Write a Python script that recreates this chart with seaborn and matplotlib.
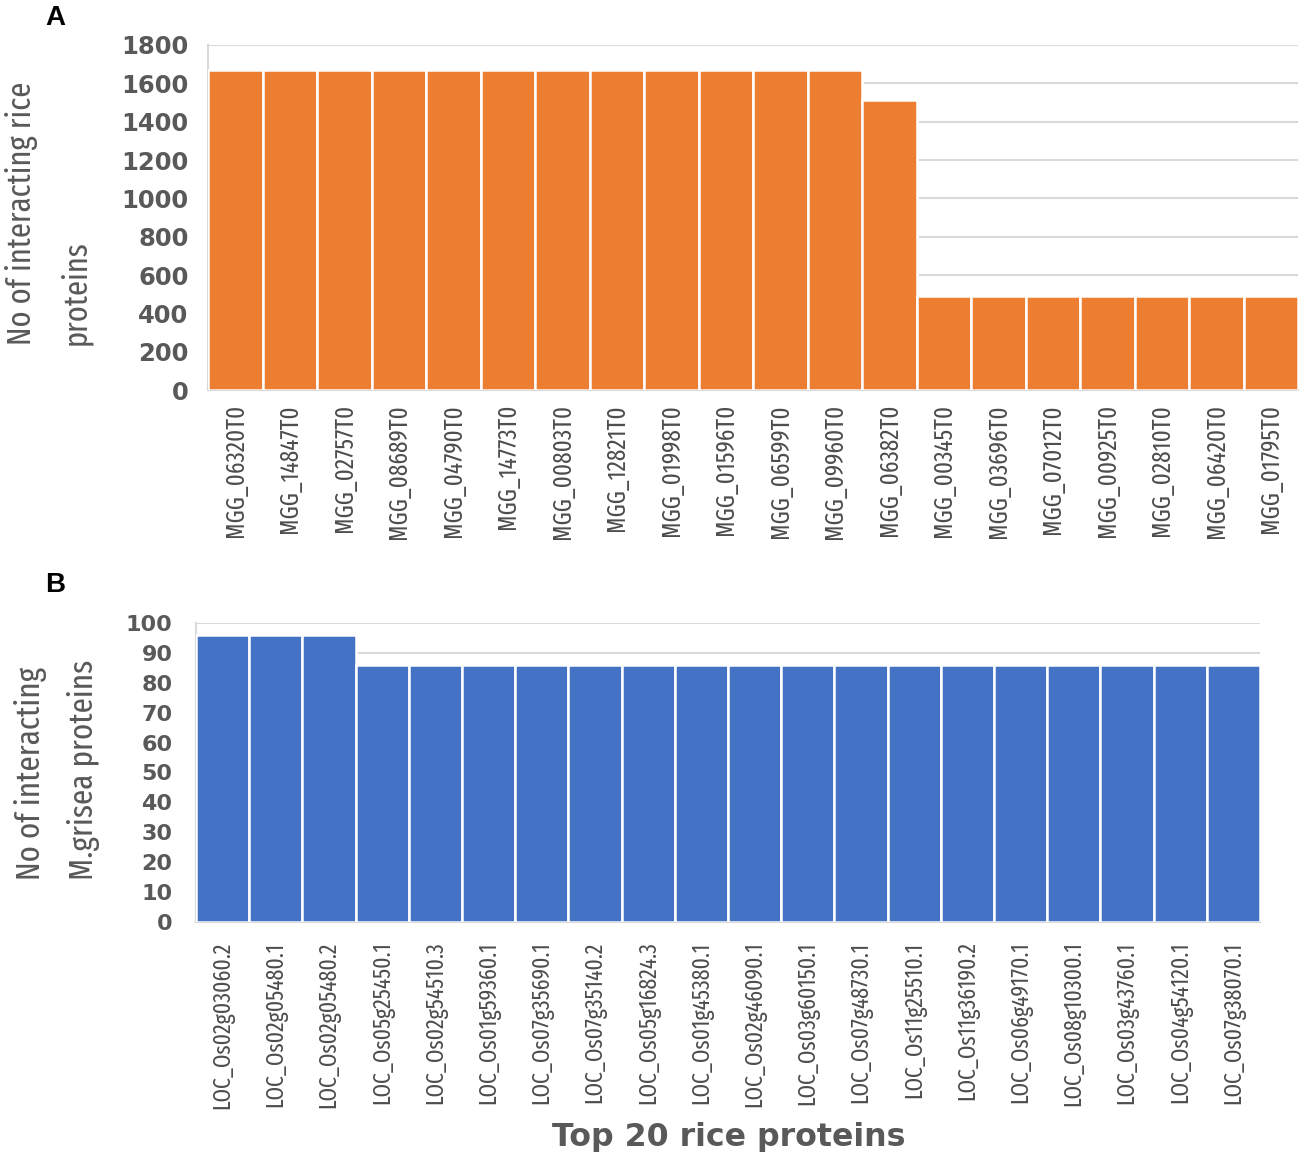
import matplotlib
matplotlib.use("Agg")
import matplotlib.pyplot as plt
from matplotlib import font_manager
from matplotlib.font_manager import FontProperties
from matplotlib.textpath import TextPath
import seaborn as sns
import pandas as pd

# ---- data ----
mgg_ids = ["MGG_06320T0", "MGG_14847T0", "MGG_02757T0", "MGG_08689T0", "MGG_04790T0",
           "MGG_14773T0", "MGG_00803T0", "MGG_12821T0", "MGG_01998T0", "MGG_01596T0",
           "MGG_06599T0", "MGG_09960T0", "MGG_06382T0", "MGG_00345T0", "MGG_03696T0",
           "MGG_07012T0", "MGG_00925T0", "MGG_02810T0", "MGG_06420T0", "MGG_01795T0"]
mgg_counts = [1670, 1670, 1670, 1670, 1670, 1670, 1670, 1670, 1670, 1670,
              1670, 1670, 1515, 490, 490, 490, 490, 490, 490, 490]

loc_ids = ["LOC_Os02g03060.2", "LOC_Os02g05480.1", "LOC_Os02g05480.2", "LOC_Os05g25450.1",
           "LOC_Os02g54510.3", "LOC_Os01g59360.1", "LOC_Os07g35690.1", "LOC_Os07g35140.2",
           "LOC_Os05g16824.3", "LOC_Os01g45380.1", "LOC_Os02g46090.1", "LOC_Os03g60150.1",
           "LOC_Os07g48730.1", "LOC_Os11g25510.1", "LOC_Os11g36190.2", "LOC_Os06g49170.1",
           "LOC_Os08g10300.1", "LOC_Os03g43760.1", "LOC_Os04g54120.1", "LOC_Os07g38070.1"]
loc_counts = [96, 96, 96, 86, 86, 86, 86, 86, 86, 86,
              86, 86, 86, 86, 86, 86, 86, 86, 86, 86]

ytick_a = [0, 200, 400, 600, 800, 1000, 1200, 1400, 1600, 1800]
ytick_b = [0, 10, 20, 30, 40, 50, 60, 70, 80, 90, 100]

sns.set_theme(style="white")
plt.rcParams['font.family'] = ['Liberation Sans', 'DejaVu Sans']

GREY = "#595959"
GRID = "#D9D9D9"
DPI = 100


def find_narrow():
    """Pick the most condensed installed sans font file (regular weight), if any."""
    best, best_score = None, -1
    for f in font_manager.fontManager.ttflist:
        n = f.name
        st = str(f.stretch)
        narrowish = ('Narrow' in n or 'Condensed' in n or 'condensed' in st)
        if not narrowish or 'Mono' in n or 'Serif' in n:
            continue
        w = f.weight
        if isinstance(w, str):
            w = 400 if w in ('normal', 'regular', 'book', 'roman') else 700
        if w != 400 or f.style != 'normal':
            continue
        score = 1
        if 'condensed' == st or ('Condensed' in n and 'Semi' not in n) or 'Narrow' in n:
            score = 2
        if 'extra' in st or 'Extra' in n:
            score = 3
        if 'ultra' in st or 'Ultra' in n:
            score = 0
        if score > best_score:
            best, best_score = f.fname, score
    return best


nf = find_narrow()
NARROW = FontProperties(fname=nf) if nf else FontProperties(family='Liberation Sans')
BOLD = FontProperties(family='DejaVu Sans', weight='bold')


def fit_size(text, prop, target_px):
    w = TextPath((0, 0), text, size=1, prop=prop).get_extents().width
    return target_px / (w * DPI / 72.0)


def with_size(prop, size):
    p = prop.copy()
    p.set_size(size)
    return p


fig = plt.figure(figsize=(12.99, 11.52), dpi=DPI)
axA = fig.add_axes([208/1299, 1-390/1152, (1298-208)/1299, (390-45)/1152])
axB = fig.add_axes([196/1299, 1-922/1152, (1260-196)/1299, (922-623)/1152])

dfA = pd.DataFrame({"id": mgg_ids, "n": mgg_counts})
dfB = pd.DataFrame({"id": loc_ids, "n": loc_counts})

sns.barplot(data=dfA, x="id", y="n", ax=axA, color="#ED7D31", saturation=1,
            width=1.0, edgecolor="white", linewidth=1.8, zorder=3)
sns.barplot(data=dfB, x="id", y="n", ax=axB, color="#4472C4", saturation=1,
            width=1.0, edgecolor="white", linewidth=1.8, zorder=3)

xsize_a = fit_size(mgg_ids[0], NARROW, 130)
xsize_b = fit_size(loc_ids[0], NARROW, 165)

for ax, ticks, tsize, xpad, ypad, xsize in [(axA, ytick_a, 17.5, 10, 14, xsize_a),
                                             (axB, ytick_b, 16, 14, 17, xsize_b)]:
    ax.set_xlim(-0.5, 19.5)
    ax.set_ylim(ticks[0], ticks[-1])
    ax.set_yticks(ticks)
    ax.set_yticklabels([str(t) for t in ticks], fontproperties=with_size(BOLD, tsize),
                       color=GREY)
    ax.tick_params(axis='y', length=0, pad=ypad)
    ax.tick_params(axis='x', length=0, pad=xpad)
    for lab in ax.get_xticklabels():
        lab.set_fontproperties(with_size(NARROW, xsize))
        lab.set_rotation(90)
        lab.set_color("#4D4D4D")
        lab.set_va('top')
        lab.set_ha('center')
    ax.grid(axis='y', color=GRID, linewidth=1.5, zorder=0)
    ax.set_axisbelow(True)
    for s in ['top', 'right']:
        ax.spines[s].set_visible(False)
    ax.spines['left'].set_color(GRID)
    ax.spines['left'].set_linewidth(1.5)
    ax.spines['bottom'].set_color(GRID)
    ax.spines['bottom'].set_linewidth(1.5)
    ax.set_xlabel("")
    ax.set_ylabel("")

xl = "Top 20 rice proteins"
axB.set_xlabel(xl, fontproperties=with_size(BOLD, fit_size(xl, BOLD, 352)), color=GREY)
axB.xaxis.set_label_coords((729-196)/(1260-196), -(1122-922)/(922-623))

# y-axis titles (two lines each, bottom-aligned like the reference)
ylA = ["No of interacting rice", "proteins"]
ylB = ["No of interacting", "M.grisea proteins"]
sA = fit_size(ylA[0], NARROW, 260)
sB = fit_size(ylB[1], NARROW, 217)
for txt, xc in zip(ylA, [22, 75]):
    fig.text(xc/1299, 1-345/1152, txt, rotation=90, ha='center', va='bottom',
             fontproperties=with_size(NARROW, sA), color=GREY)
for txt, xc in zip(ylB, [31, 83]):
    fig.text(xc/1299, 1-880/1152, txt, rotation=90, ha='center', va='bottom',
             fontproperties=with_size(NARROW, sB), color=GREY)

fig.text(55/1299, 1-18/1152, "A", fontsize=20, fontweight='bold', color='black',
         ha='center', va='center')
fig.text(55/1299, 1-585/1152, "B", fontsize=20, fontweight='bold', color='black',
         ha='center', va='center')

fig.savefig("out.png", dpi=DPI)
